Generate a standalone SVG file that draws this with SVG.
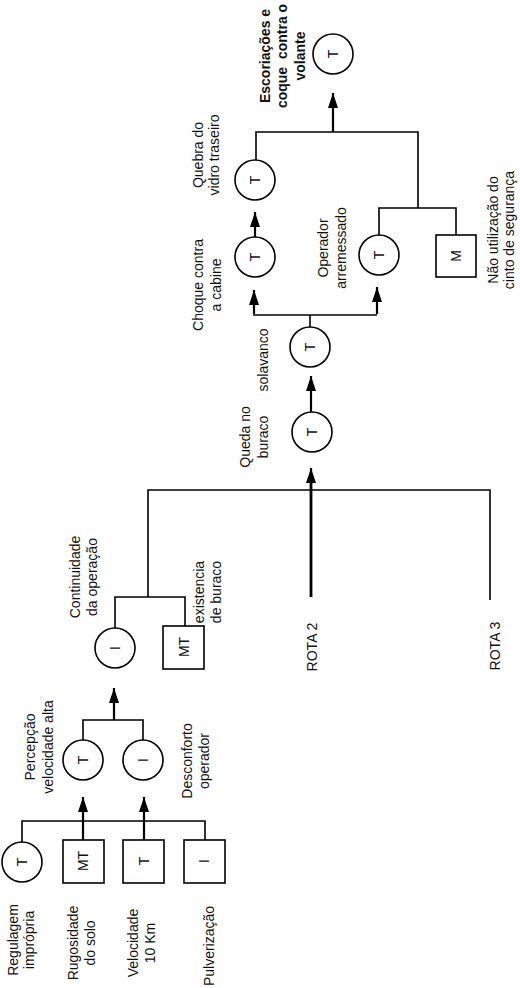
<svg xmlns="http://www.w3.org/2000/svg" width="520" height="988" viewBox="0 0 520 988">
<defs>
<marker id="ah" markerUnits="userSpaceOnUse" markerWidth="15" markerHeight="10" refX="15" refY="5" orient="auto">
<path d="M0,0 L15,5 L0,10 z" fill="#000"/>
</marker>
<style>
.n{fill:#fff;stroke:#000;stroke-width:1.6}
.t{font-family:"Liberation Sans",Arial,sans-serif;font-size:14px;fill:#111}
.c{text-anchor:middle}
.b{font-weight:bold}
.ln{fill:none;stroke:#000;stroke-width:1.6}
.ar{fill:none;stroke:#000;stroke-width:2.2;marker-end:url(#ah)}
.th{fill:none;stroke:#000;stroke-width:2.8}
</style>
</defs>
<rect width="520" height="988" fill="#fff"/>

<g id="connectors">
<!-- bottom OR -->
<polyline class="ln" points="22,842 22,821 205,821 205,840"/>
<line class="ar" x1="83" y1="840" x2="83" y2="797"/>
<line class="ar" x1="144" y1="840" x2="144" y2="797"/>
<!-- Percepção/Desconforto -->
<polyline class="ln" points="83,740 83,720 143,720 143,740"/>
<line class="ar" x1="114" y1="720" x2="114" y2="688"/>
<!-- Continuidade/existencia -->
<polyline class="ln" points="115,628 115,597 185,597 185,626"/>
<polyline class="ln" points="148,597 148,490 490,490 490,600"/>
<line class="th" x1="311" y1="597" x2="311" y2="482"/>
<line class="ar" x1="311" y1="484" x2="311" y2="468"/>
<!-- Queda -> solavanco -->
<line class="ar" x1="311" y1="412" x2="311" y2="376"/>
<polyline class="ln" points="310,327 310,315"/>
<polyline class="ln" points="253,315 377,315"/>
<line class="ar" x1="254" y1="314" x2="254" y2="290"/>
<line class="ar" x1="377" y1="314" x2="377" y2="287"/>
<!-- Choque -> Quebra -->
<line class="ar" x1="255" y1="237" x2="255" y2="212"/>
<!-- top OR -->
<polyline class="ln" points="256,160 256,132 418,132 418,208"/>
<polyline class="ln" points="379,235 379,208 456,208 456,235"/>
<line class="ar" x1="333" y1="132" x2="333" y2="93"/>
</g>

<g id="regulagem">
<circle class="n" cx="22" cy="862" r="20"/>
<text class="t c" transform="translate(27,862) rotate(-90)">T</text>
<text class="t c" transform="translate(18,940) rotate(-90)"><tspan x="0" y="0">Regulagem</tspan><tspan x="0" y="16">imprópria</tspan></text>
</g>
<g id="rugosidade">
<rect class="n" x="63" y="840" width="41" height="43"/>
<text class="t c" transform="translate(88,861) rotate(-90)">MT</text>
<text class="t c" transform="translate(78,943) rotate(-90)"><tspan x="0" y="0">Rugosidade</tspan><tspan x="0" y="17">do solo</tspan></text>
</g>
<g id="velocidade">
<rect class="n" x="123" y="840" width="41" height="43"/>
<text class="t c" transform="translate(149,861) rotate(-90)">T</text>
<text class="t c" transform="translate(138,943) rotate(-90)"><tspan x="0" y="0">Velocidade</tspan><tspan x="0" y="17">10 Km</tspan></text>
</g>
<g id="pulverizacao">
<rect class="n" x="184" y="840" width="41" height="43"/>
<text class="t c" transform="translate(209,861) rotate(-90)">I</text>
<text class="t c" transform="translate(214,946) rotate(-90)">Pulverização</text>
</g>

<g id="percepcao">
<circle class="n" cx="83" cy="760" r="20"/>
<text class="t c" transform="translate(88,760) rotate(-90)">T</text>
<text class="t c" transform="translate(35,747) rotate(-90)"><tspan x="0" y="0">Percepção</tspan><tspan x="0" y="18">velocidade alta</tspan></text>
</g>
<g id="desconforto">
<circle class="n" cx="143" cy="760" r="20"/>
<text class="t c" transform="translate(148,760) rotate(-90)">I</text>
<text class="t c" transform="translate(192,761) rotate(-90)"><tspan x="0" y="0">Desconforto</tspan><tspan x="0" y="17">operador</tspan></text>
</g>

<g id="continuidade">
<circle class="n" cx="115" cy="648" r="20"/>
<text class="t c" transform="translate(120,648) rotate(-90)">I</text>
<text class="t c" transform="translate(80,577) rotate(-90)"><tspan x="0" y="0">Continuidade</tspan><tspan x="0" y="17">da operação</tspan></text>
</g>
<g id="existencia">
<rect class="n" x="163" y="626" width="41" height="43"/>
<text class="t c" transform="translate(189,647) rotate(-90)">MT</text>
<text class="t c" transform="translate(204,592) rotate(-90)"><tspan x="0" y="0">existencia</tspan><tspan x="0" y="17">de buraco</tspan></text>
</g>

<g id="rota2">
<text class="t c" transform="translate(317,647) rotate(-90)">ROTA 2</text>
</g>
<g id="rota3">
<text class="t c" transform="translate(500,646) rotate(-90)">ROTA 3</text>
</g>

<g id="queda">
<circle class="n" cx="312" cy="432" r="20"/>
<text class="t c" transform="translate(317,432) rotate(-90)">T</text>
<text class="t c" transform="translate(250,437) rotate(-90)"><tspan x="0" y="0">Queda no</tspan><tspan x="0" y="18">buraco</tspan></text>
</g>
<g id="solavanco">
<circle class="n" cx="310" cy="347" r="20"/>
<text class="t c" transform="translate(315,347) rotate(-90)">T</text>
<text class="t c" transform="translate(268,360) rotate(-90)">solavanco</text>
</g>
<g id="choque">
<circle class="n" cx="255" cy="257" r="20"/>
<text class="t c" transform="translate(260,257) rotate(-90)">T</text>
<text class="t c" transform="translate(203,285) rotate(-90)"><tspan x="0" y="0">Choque contra</tspan><tspan x="0" y="18">a cabine</tspan></text>
</g>
<g id="quebra">
<circle class="n" cx="255" cy="180" r="20"/>
<text class="t c" transform="translate(260,180) rotate(-90)">T</text>
<text class="t c" transform="translate(203,155) rotate(-90)"><tspan x="0" y="0">Quebra do</tspan><tspan x="0" y="16">vidro traseiro</tspan></text>
</g>
<g id="operador">
<circle class="n" cx="379" cy="255" r="20"/>
<text class="t c" transform="translate(384,255) rotate(-90)">T</text>
<text class="t c" transform="translate(328,248) rotate(-90)"><tspan x="0" y="0">Operador</tspan><tspan x="0" y="18">arremessado</tspan></text>
</g>
<g id="cinto">
<rect class="n" x="436" y="235" width="40" height="42"/>
<text class="t c" transform="translate(461,256) rotate(-90)">M</text>
<text class="t c" transform="translate(498,230) rotate(-90)"><tspan x="0" y="0">Não utilização do</tspan><tspan x="0" y="16">cinto de segurança</tspan></text>
</g>
<g id="escoriacoes">
<circle class="n" cx="333" cy="54" r="20"/>
<text class="t c" transform="translate(338,54) rotate(-90)">T</text>
<text class="t c b" xml:space="preserve" transform="translate(270,56) rotate(-90)"><tspan x="0" y="0">Escoriações e</tspan><tspan x="0" y="17">coque  contra o</tspan><tspan x="0" y="35">volante</tspan></text>
</g>
</svg>
